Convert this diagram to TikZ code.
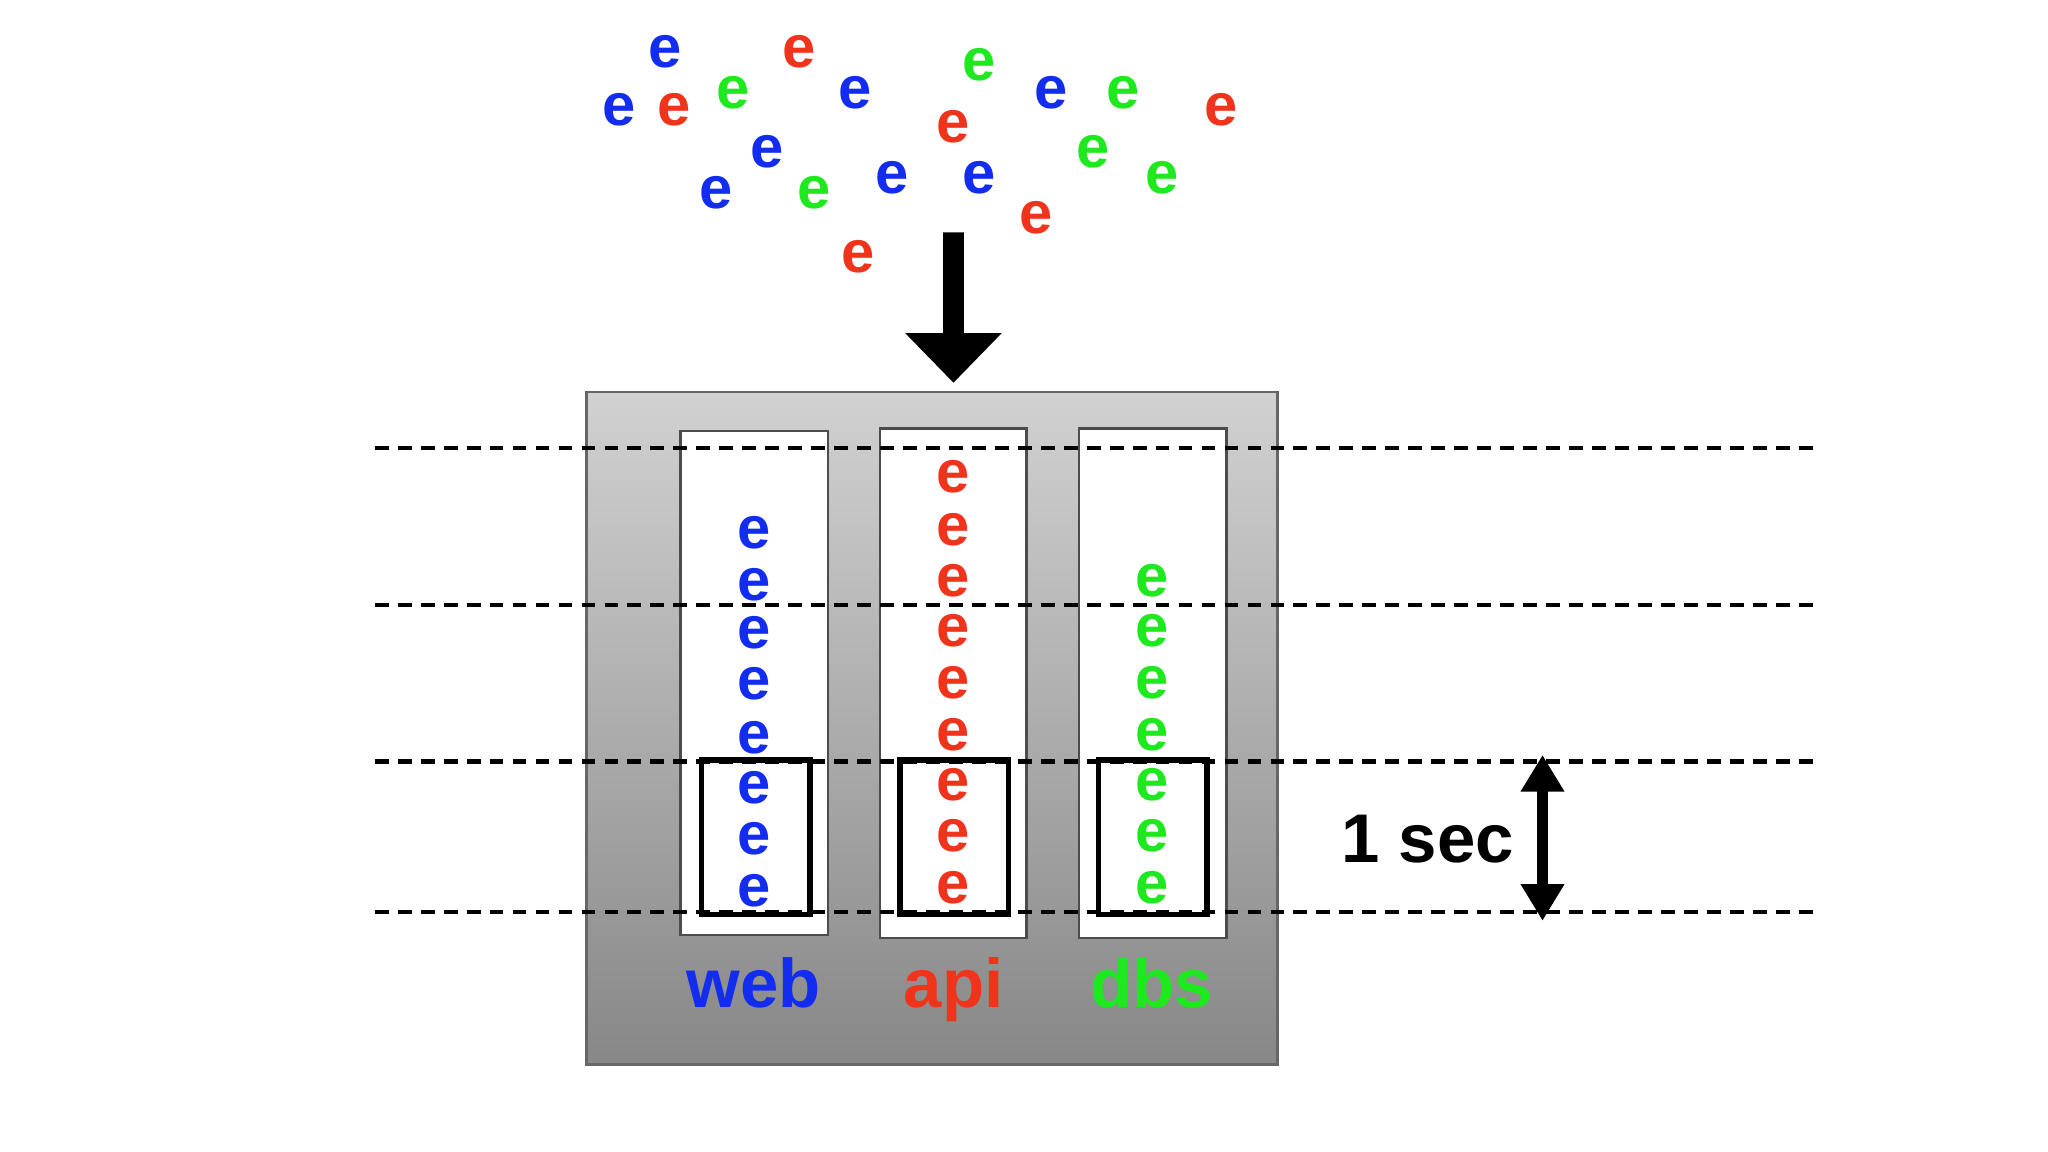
\documentclass[tikz,border=0pt]{standalone}
\usepackage{fontspec}
\setmainfont{Liberation Sans}
\usetikzlibrary{arrows.meta}
\definecolor{eb}{RGB}{18,44,240}
\definecolor{er}{RGB}{240,52,28}
\definecolor{eg}{RGB}{30,232,30}
\begin{document}
\begin{tikzpicture}[x=0.01cm,y=-0.01cm,
  ev/.style={font=\fontsize{13}{13}\selectfont\bfseries,inner sep=0pt,anchor=center,yshift=-0.8pt},
  lab/.style={font=\fontsize{15}{15}\selectfont\bfseries,inner sep=0pt,anchor=base},
  col/.style={draw=black!70,fill=white,line width=0.5pt},
  win/.style={draw=black,line width=1.2pt},
  dl/.style={dash pattern=on 3pt off 2pt,line width=0.9pt}]
\useasboundingbox (0,0) rectangle (1568,882);
% scattered events
\foreach \x/\y [count=\i] in {509/37,474/81,587/113,548/145,655/68,683/133,750/133,805/68}
  \node[ev,text=eb] (sb\i) at (\x,\y) {e};
\foreach \x/\y [count=\i] in {612/37,516/81,730/94,793/164,657/194,935/81}
  \node[ev,text=er] (sr\i) at (\x,\y) {e};
\foreach \x/\y [count=\i] in {561/68,750/47,860/68,837/113,623/145,890/133}
  \node[ev,text=eg] (sg\i) at (\x,\y) {e};
% big arrow
\fill (722,178) -- (738,178) -- (738,255) -- (767,255) -- (730,293) -- (693,255) -- (722,255) -- cycle;
% gray box
\shade[top color=black!18,bottom color=black!47] (449,300) rectangle (978,815);
\draw[black!60,line width=0.5pt] (449,300) rectangle (978,815);
\draw[col] (521,330) rectangle (634,716);
\draw[col] (674,328) rectangle (786,718);
\draw[col] (826,328) rectangle (939,718);
% events in columns
\foreach \y [count=\i] in {405,445,482,521,562,600,639,679}
  \node[ev,text=eb] (cw\i) at (577,\y) {e};
\foreach \y [count=\i] in {362,403,442,480,520,560,598,637,677}
  \node[ev,text=er] (ca\i) at (730,\y) {e};
\foreach \y [count=\i] in {442,480,520,560,598,637,677}
  \node[ev,text=eg] (cd\i) at (882,\y) {e};
% windows
\draw[win] (537,582) rectangle (620,700);
\draw[win] (689,582) rectangle (772,700);
\draw[win] (841,582) rectangle (924,700);
% dashed lines
\foreach \y in {343,463,583,698}
  \draw[dl] (287,\y) -- (1388,\y);
% labels
\node[lab,text=eb] (lw) at (577,771) {web};
\node[lab,text=er] (la) at (730,771) {api};
\node[lab,text=eg] (ld) at (882,771) {dbs};
% 1 sec
\coordinate (t1) at (1181,578);
\coordinate (t2) at (1181,705);
\draw[line width=2.5pt,{Triangle[width=9pt,length=8pt]}-{Triangle[width=9pt,length=8pt]}] (t1) -- (t2);
\node[lab,text=black] (sec) at (1093,660) {1 sec};
\end{tikzpicture}
\end{document}
